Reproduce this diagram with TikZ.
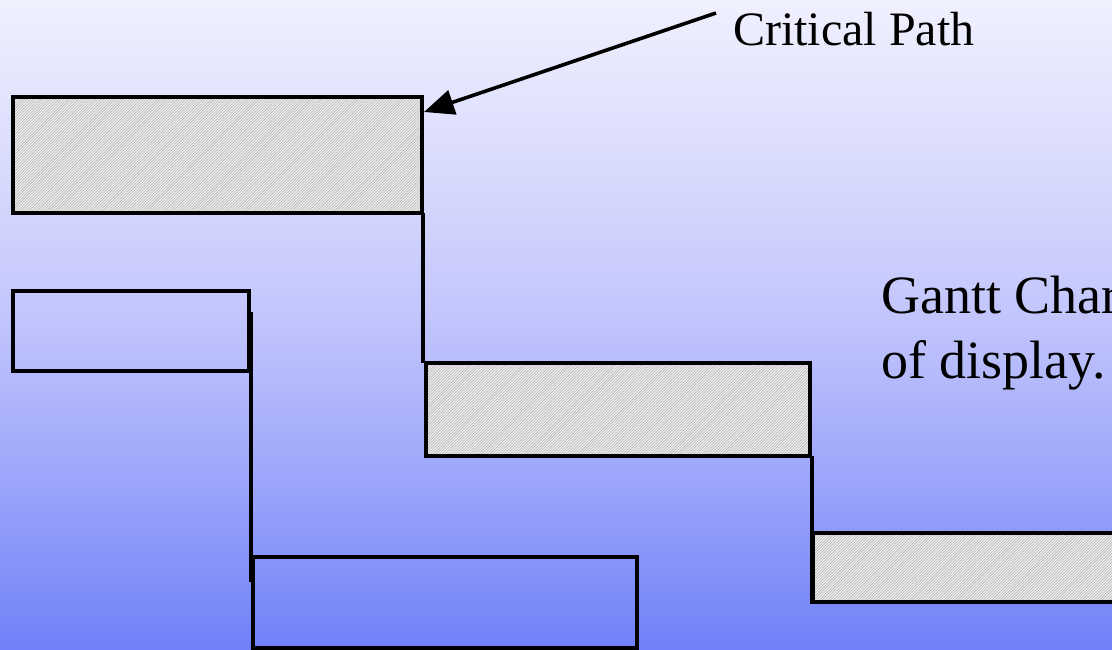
\documentclass[tikz,border=0pt]{standalone}
\usepackage{fontspec}
\setmainfont{Liberation Serif}
\usetikzlibrary{arrows.meta,patterns.meta,calc}

% background fade, light lavender at the top to blue at the bottom
\definecolor{bgA}{RGB}{240,240,254}
\definecolor{bgB}{RGB}{218,220,252}
\definecolor{bgC}{RGB}{192,196,252}
\definecolor{bgD}{RGB}{154,164,250}
\definecolor{bgE}{RGB}{112,128,248}
\pgfdeclareverticalshading{skyfade}{100bp}{color(0bp)=(bgE); color(25bp)=(bgE); color(37.5bp)=(bgD); color(50bp)=(bgC); color(62.5bp)=(bgB); color(75bp)=(bgA); color(100bp)=(bgA)}

\tikzset{
  bar/.style={draw=black, line width=3.8pt, rectangle, inner sep=0pt, outer sep=0pt, anchor=north west},
  critbar/.style={bar,
    preaction={fill=white!88!gray},
    pattern={Lines[angle=45,distance=2pt,line width=0.6pt]},
    pattern color=gray!60},
  link/.style={draw=black, line width=3.8pt},
  callout/.style={draw=black, line width=3.6pt, -{Triangle[length=30pt,width=25pt]}},
  label/.style={inner sep=0pt, anchor=base west, text=black},
}

\begin{document}
\begin{tikzpicture}[x=1pt,y=-1pt]
  \useasboundingbox (0,0) rectangle (1112,650);
  \clip (0,0) rectangle (1112,650);
  \shade[shading=skyfade] (0,0) rectangle (1112,650);

  % task bars
  \node[critbar, minimum width=409pt, minimum height=116pt] (t1) at (13,97) {};
  \node[bar, minimum width=236pt, minimum height=80pt] (t2) at (13,291) {};
  \node[critbar, minimum width=384pt, minimum height=93pt] (t3) at (426,363) {};
  \node[critbar, minimum width=320pt, minimum height=69pt] (t4) at (813,533) {};
  \node[bar, minimum width=384pt, minimum height=91pt] (t5) at (253,557) {};

  % dependency links
  \coordinate (a1) at ($(t1.south east)+(1,0)$);
  \coordinate (a2) at (a1 |- t3.north west);
  \draw[link] (a1) -- (a2);
  \coordinate (d1) at (251,312);
  \coordinate (d2) at (251,582);
  \draw[link] (d1) -- (d2);
  \coordinate (c1) at ($(t3.south east)+(2,0)$);
  \coordinate (c2) at ($(c1 |- t4.south west)+(0,2)$);
  \draw[link] (c1) -- (c2);

  % labels
  \node[label, font=\fontsize{48}{58}\selectfont] (crit) at (733,46) {Critical Path};
  \coordinate (cstart) at (716,13);
  \coordinate (ctip) at ($(t1.north east)+(2,15)$);
  \draw[callout] (cstart) -- (ctip);

  \node[label, font=\fontsize{54}{65}\selectfont] (g1) at (881,313) {Gantt Char};
  \node[label, font=\fontsize{54}{65}\selectfont] (g2) at (881,378) {of display.};
\end{tikzpicture}
\end{document}
